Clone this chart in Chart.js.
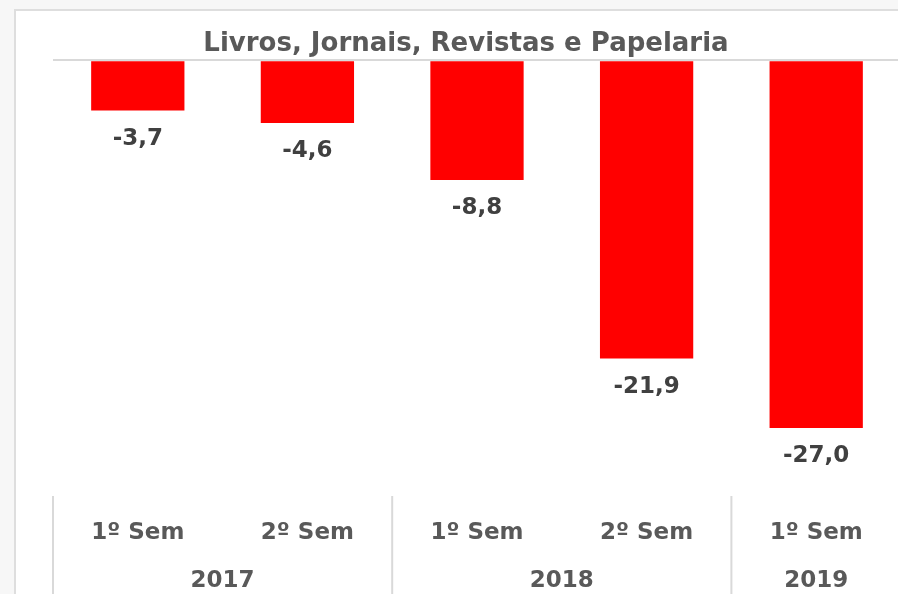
<!DOCTYPE html>
<html>
<head>
<meta charset="utf-8">
<script src="https://cdn.jsdelivr.net/npm/chart.js@4/dist/chart.umd.min.js"></script>
<style>
  html, body { margin: 0; padding: 0; background: #f7f7f7; overflow: hidden; width: 898px; height: 594px; }
  #frame { position: absolute; left: 14px; top: 9px; width: 900px; height: 600px; border-left: 2px solid #dedede; border-top: 2px solid #dedede; background: #ffffff; }
  #c { position: absolute; left: 16px; top: 11px; }
</style>
</head>
<body>
<div id="frame"></div>
<canvas id="c" width="885" height="583"></canvas>
<script>
const chartTitle = 'Livros, Jornais, Revistas e Papelaria';
const semesters = ['1º Sem', '2º Sem', '1º Sem', '2º Sem', '1º Sem'];
const years = ['2017', '2018', '2019'];
const yearSpans = [2, 2, 1];
const values = [-3.7, -4.6, -8.8, -21.9, -27.0];

const FONT = '"DejaVu Sans", sans-serif';

const extras = {
  id: 'extras',
  afterDatasetsDraw(chart) {
    const ctx = chart.ctx;
    const meta = chart.getDatasetMeta(0);
    ctx.save();
    ctx.font = 'bold 23px ' + FONT;
    ctx.fillStyle = '#404040';
    ctx.textAlign = 'center';
    ctx.textBaseline = 'middle';
    meta.data.forEach((bar, i) => {
      ctx.fillText(values[i].toFixed(1).replace('.', ','), bar.x, bar.y + 28);
    });
    ctx.restore();
  },
  afterDraw(chart) {
    const ctx = chart.ctx;
    const x = chart.scales.x;
    const half = (x.getPixelForValue(1) - x.getPixelForValue(0)) / 2;
    ctx.save();
    ctx.strokeStyle = '#d9d9d9';
    ctx.lineWidth = 2;
    ctx.font = 'bold 23px ' + FONT;
    ctx.fillStyle = '#595959';
    ctx.textAlign = 'center';
    ctx.textBaseline = 'middle';
    let idx = 0;
    years.forEach((yr, k) => {
      const start = x.getPixelForValue(idx) - half;
      const end = x.getPixelForValue(idx + yearSpans[k] - 1) + half;
      ctx.beginPath();
      ctx.moveTo(start, 485);
      ctx.lineTo(start, chart.height);
      ctx.stroke();
      ctx.fillText(yr, (start + end) / 2, 570);
      idx += yearSpans[k];
    });
    ctx.restore();
  }
};

new Chart(document.getElementById('c'), {
  type: 'bar',
  data: {
    labels: semesters,
    datasets: [{
      data: values,
      backgroundColor: '#ff0000',
      borderWidth: 0,
      categoryPercentage: 1.0,
      barPercentage: 0.55
    }]
  },
  options: {
    responsive: false,
    animation: false,
    layout: { padding: { left: 15, right: 0, top: 0, bottom: 0 } },
    plugins: {
      legend: { display: false },
      tooltip: { enabled: false },
      title: {
        display: true,
        text: chartTitle,
        color: '#595959',
        font: { family: FONT, size: 26, weight: 'bold', lineHeight: 1.2 },
        padding: { top: 18, bottom: 0 }
      }
    },
    scales: {
      x: {
        grid: { display: false, drawTicks: true, tickLength: 50 },
        border: { display: false },
        ticks: {
          color: '#595959',
          font: { family: FONT, size: 23, weight: 'bold' },
          padding: 0,
          maxRotation: 0,
          autoSkip: false
        },
        afterFit(s) { s.height = 125; }
      },
      y: {
        display: true,
        min: -30,
        max: 0,
        ticks: { display: false },
        border: { display: false },
        grid: {
          drawTicks: false,
          color: (c) => (c.tick && c.tick.value === 0 ? '#d9d9d9' : 'rgba(0,0,0,0)'),
          lineWidth: 2
        },
        afterFit(s) { s.width = 22; }
      }
    }
  },
  plugins: [extras]
});
</script>
</body>
</html>
